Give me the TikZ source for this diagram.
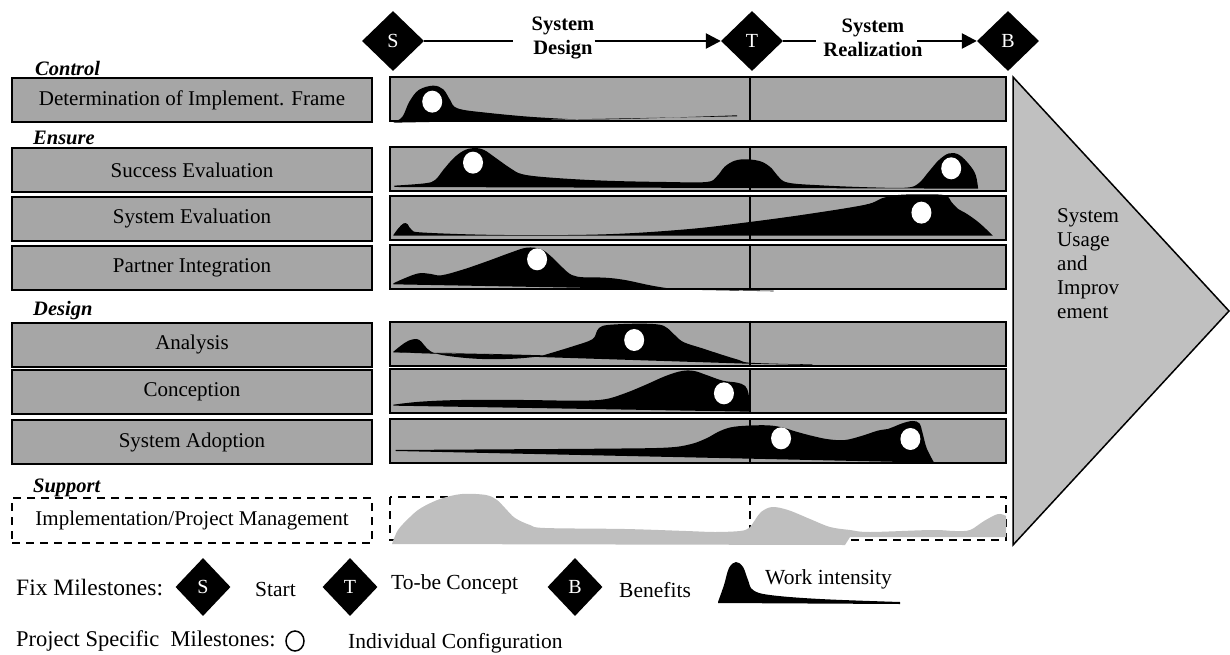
\documentclass[tikz,border=0pt]{standalone}
\usepackage{fontspec}
\setmainfont{Liberation Serif}
\usetikzlibrary{shapes.geometric,arrows.meta}
\definecolor{boxgray}{HTML}{A6A6A6}
\definecolor{arrowgray}{HTML}{C0C0C0}
\definecolor{supportgray}{HTML}{BFBFBF}

\begin{document}
\begin{tikzpicture}[x=1pt,y=-1pt,
  lbox/.style={draw, line width=2pt, fill=boxgray, minimum width=360pt, minimum height=44pt,
    inner sep=0pt, font=\fontsize{21}{24}\selectfont},
  rbox/.style={draw, line width=2pt, fill=boxgray, minimum width=616pt, minimum height=44pt, inner sep=0pt},
  cat/.style={font=\fontsize{20.5}{22}\selectfont\bfseries\itshape, inner sep=0pt, anchor=west},
  hdia/.style={diamond, fill=black, text=white, minimum width=62pt, minimum height=60pt, inner sep=0pt,
    font=\fontsize{20}{22}\selectfont},
  ldia/.style={diamond, fill=black, text=white, minimum width=55pt, minimum height=58pt, inner sep=0pt,
    font=\fontsize{20}{22}\selectfont},
  hlabel/.style={font=\fontsize{20.5}{24}\selectfont\bfseries, align=center, inner sep=0pt},
  legtext/.style={font=\fontsize{21.5}{24}\selectfont, inner sep=0pt, anchor=west},
  leghead/.style={font=\fontsize{23.5}{26}\selectfont, inner sep=0pt, anchor=west},
  phase/.style={line width=2.5pt, -{Triangle[length=15pt,width=15pt]}},
  plain/.style={line width=2pt},
  blob/.style={fill=black},
  dot/.style={fill=white},
  divider/.style={line width=2pt},
  dashbox/.style={draw, line width=1.8pt, dash pattern=on 8pt off 6pt},
]
\useasboundingbox (0,0) rectangle (1230,655);

% ---------- phase header ----------
\node[hdia] (S) at (393,41) {S};
\node[hdia] (T) at (752,41) {T};
\node[hdia] (B) at (1008,41) {B};
\node[hlabel] (sd) at (563,38) {System\\Design};
\node[hlabel] (sr) at (873,38) {System\\Realization};
\coordinate (sdin) at (513,41);
\coordinate (srin) at (816,41);
\coordinate (srout) at (917,41);
\draw[plain] (S.east) -- (sdin);
\draw[phase] (sd.east |- S.east) -- (T.west);
\draw[plain] (T.east) -- (srin);
\draw[phase] (srout) -- (B.west);

% ---------- category labels ----------
\node[cat] (ctrl) at (35,68) {Control};
\node[cat] (ens) at (33,138) {Ensure};
\node[cat] (des) at (33,311) {Design};
\node[cat] (sup) at (33,488) {Support};

% ---------- activity boxes (left) ----------
\node[lbox] (l1) at (192,100) {Determination of Implement. Frame};
\node[lbox] (l2) at (192,170) {Success Evaluation};
\node[lbox] (l3) at (192,218.5) {System Evaluation};
\node[lbox] (l4) at (192,267.5) {Partner Integration};
\node[lbox] (l5) at (192,344.5) {Analysis};
\node[lbox] (l6) at (192,392) {Conception};
\node[lbox] (l7) at (192,442) {System Adoption};
\node[lbox, dashbox, fill=none, minimum height=45pt] (l8) at (192,520.5) {Implementation/Project Management};

% ---------- timeline boxes (right) ----------
\node[rbox] (r1) at (698,99.5) {};
\node[rbox] (r2) at (698,169) {};
\node[rbox] (r3) at (698,217.5) {};
\node[rbox] (r4) at (698,267) {};
\node[rbox] (r5) at (698,343.5) {};
\node[rbox] (r6) at (698,391) {};
\node[rbox] (r7) at (698,441) {};
\foreach \r in {r1,r2,r3,r4,r5,r6,r7}
  \draw[divider] (\r.north -| 750,0) -- (\r.south -| 750,0);

% support row
\draw[dashbox] (390,497) rectangle (1006,540);
\draw[dashbox] (750,497) -- (750,540);
\fill[supportgray] plot[smooth, tension=.55] coordinates {
  (392,544) (398,530) (410,517) (421,508) (440,499) (462,494) (486,495) (497,500)
  (505,508) (515,518) (530,525) (545,528) (625,529) (686,531) (715,532) (740,531)
  (749,528) (755,520) (761,512) (772,507) (788,510) (810,519) (830,527) (850,530)
  (870,532) (931,530) (955,531) (970,530) (984,521) (998,514) (1006,516)}
  -- (1006,537) -- (850,537) -- (845,545) -- cycle;

% ---------- work intensity curves, rows 1-4 ----------
\begin{scope}[shift={(380,70)}, x=0.408pt, y=-0.3333pt]
  % Determination of Implement. Frame
  \fill[blob] plot[smooth, tension=.6] coordinates {
    (33,158) (55,140) (72,95) (95,60) (130,47) (155,58) (172,90) (190,115)
    (260,128) (400,143) (550,148) (875,136)} -- (875,139) -- (33,158) -- cycle;
  \fill[dot] (128,95) ellipse [x radius=10pt, y radius=11pt];
  % Success Evaluation
  \fill[blob] plot[smooth, tension=.6] coordinates {
    (35,347) (110,340) (135,330) (155,300) (180,265) (205,242) (230,234) (255,240)
    (285,265) (320,295) (350,313) (420,323) (550,332) (700,336) (800,336) (825,320)
    (845,290) (870,272) (900,268) (935,275) (960,295) (975,318) (1000,338) (1080,346)
    (1200,352) (1290,353) (1320,340) (1345,305) (1370,270) (1395,250) (1420,255)
    (1445,285) (1460,315) (1466,356)} -- (35,351) -- cycle;
  \fill[dot] (228,278) ellipse [x radius=10pt, y radius=11pt];
  \fill[dot] (1400,295) ellipse [x radius=10pt, y radius=11pt];
  % System Evaluation
  \fill[blob] plot[smooth, tension=.6] coordinates {
    (33,495) (45,475) (58,460) (68,463) (78,480) (110,488) (300,495) (550,493)
    (750,478) (900,457) (1050,432) (1190,404) (1230,385) (1270,375) (1330,373)
    (1385,376) (1400,395) (1415,415) (1440,433) (1470,460) (1502,497)} -- (33,497) -- cycle;
  \fill[dot] (1327,428) ellipse [x radius=10pt, y radius=11pt];
  % Partner Integration
  \fill[blob] plot[smooth, tension=.6] coordinates {
    (33,640) (60,625) (95,610) (125,612) (150,616) (200,600) (260,575) (320,548)
    (360,533) (395,538) (420,560) (445,590) (470,615) (500,622) (550,623) (600,630)
    (680,650) (750,658) (965,662)} -- (965,664) -- (33,643) -- cycle;
  \fill[dot] (385,568) ellipse [x radius=10pt, y radius=11pt];
\end{scope}

% ---------- work intensity curves, rows 5-7 ----------
\begin{scope}[shift={(380,310)}, x=0.408pt, y=-0.3333pt]
  % Analysis
  \fill[blob] plot[smooth, tension=.6] coordinates {
    (33,125) (50,108) (70,92) (90,87) (102,96) (115,115) (135,130) (180,140)
    (250,147) (330,146) (400,138)} -- (33,127) -- cycle;
  \fill[blob] (33,124) -- (400,136) plot[smooth, tension=.6] coordinates {
    (400,136) (470,110) (520,88) (532,62) (545,48) (580,43) (640,41) (685,44)
    (705,55) (725,78) (745,97) (790,115) (840,135) (880,150) (905,158) (1000,162) (1060,163)}
    -- (1060,165) -- (900,161) -- (33,127) -- cycle;
  \fill[dot] (623,90) ellipse [x radius=10pt, y radius=11pt];
  % Conception
  \fill[blob] plot[smooth, tension=.6] coordinates {
    (33,284) (100,275) (200,270) (350,270) (480,272) (550,268) (600,250) (650,225)
    (700,198) (740,183) (770,183) (800,195) (840,212) (875,218) (895,228) (903,250)
    (905,280) (905,305)} -- (33,287) -- cycle;
  \fill[dot] (843,250) ellipse [x radius=10pt, y radius=11pt];
  % System Adoption
  \fill[blob] plot[smooth, tension=.6] coordinates {
    (38,420) (300,418) (550,416) (700,413) (760,403) (800,385) (830,365) (860,352)
    (900,347) (950,346) (985,352) (1020,365) (1060,378) (1100,388) (1140,390)
    (1180,378) (1220,362) (1245,357) (1260,350) (1280,340) (1305,333) (1322,340)
    (1330,370) (1340,415) (1358,458)} -- (38,423) -- cycle;
  \fill[dot] (983,385) ellipse [x radius=10pt, y radius=11pt];
  \fill[dot] (1300,387) ellipse [x radius=10pt, y radius=11pt];
\end{scope}

% ---------- usage arrow ----------
\draw[fill=arrowgray, line width=1.5pt, line join=miter] (1013,77) -- (1229,311) -- (1013,545) -- cycle;
\node[font=\fontsize{21}{24}\selectfont, align=left, anchor=north west, inner sep=0pt] (usage)
  at (1057,208) {System\\Usage\\and\\Improv\\ement};

% ---------- legend ----------
\node[leghead] (fix) at (16,588) {Fix Milestones:};
\node[ldia] (lS) at (203,587) {S};
\node[legtext] (lstart) at (255,589) {Start};
\node[ldia] (lT) at (350,587) {T};
\node[legtext] (lto) at (391,584) {To-be Concept};
\node[ldia] (lB) at (575,587) {B};
\node[legtext] (lben) at (619,590) {Benefits};
\fill[blob] plot[smooth, tension=.6] coordinates {
  (718,602) (724,585) (729,568) (736,562) (743,567) (748,580) (753,590) (770,595)
  (820,599) (900,602)} -- (900,604) -- (718,603) -- cycle;
\node[legtext] (lwork) at (765,579) {Work intensity};
\node[leghead, font=\fontsize{22.5}{25}\selectfont] (proj) at (16,641) {Project Specific\ \ Milestones:};
\draw[line width=1.5pt] (295,641) ellipse [x radius=9pt, y radius=10pt];
\node[legtext] (lind) at (348,643) {Individual Configuration};
\end{tikzpicture}
\end{document}
